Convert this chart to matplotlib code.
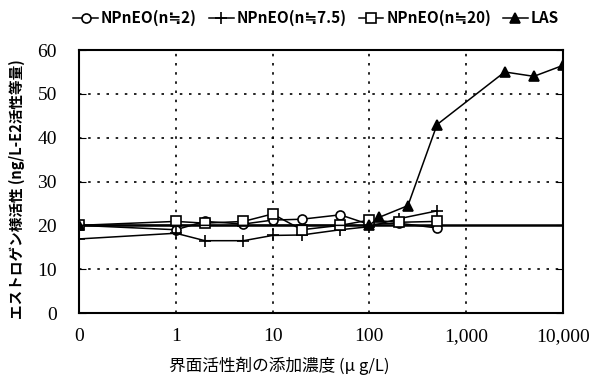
import matplotlib.pyplot as plt
import numpy as np

# 添加濃度 (µg/L)、0 は対数軸上で 0.1 の位置に描く
conc_np = [0, 1, 2, 5, 10, 20, 50, 100, 200, 500]
np2 = [20.0, 19.0, 20.9, 20.3, 21.2, 21.4, 22.4, 20.2, 20.5, 19.4]
np75 = [16.9, 18.2, 16.5, 16.5, 17.7, 17.8, 19.0, 19.7, 21.5, 23.3]
np20 = [20.0, 20.9, 20.5, 20.9, 22.6, 19.0, 20.0, 21.2, 20.7, 20.9]

conc_las = [0, 100, 125, 250, 500, 2500, 5000, 10000]
las = [20.0, 20.0, 21.8, 24.5, 43.0, 55.0, 54.0, 56.5]

control = 20.0
x_ticks = [0, 1, 10, 100, 1000, 10000]
x_labels = ["0", "1", "10", "100", "1,000", "10,000"]
y_ticks = [0, 10, 20, 30, 40, 50, 60]

jp = ['Noto Sans CJK JP', 'DejaVu Sans']
num = 'Liberation Serif'


def pos(x):
    x = np.asarray(x, dtype=float)
    return np.where(x == 0, 0.1, x)


fig = plt.figure(figsize=(5.91, 3.85), dpi=100)
ax = fig.add_axes([0.1337, 0.187, 0.8189, 0.683])
ax.set_xscale('log')

ax.axhline(control, color='black', lw=1.8, zorder=1)

kw = dict(color='black', lw=1.1, ms=6.5, mew=1.2)
ax.plot(pos(conc_np), np2, marker='o', mfc='white', label='NPnEO(n≒2)', **kw)
ax.plot(pos(conc_np), np75, marker='+', ms=9, color='black', lw=1.1, mew=1.2,
        label='NPnEO(n≒7.5)')
ax.plot(pos(conc_np), np20, marker='s', mfc='white', label='NPnEO(n≒20)', **kw)
ax.plot(pos(conc_las), las, marker='^', mfc='black', label='LAS', **kw)

ax.set_xlim(0.1, 10000)
ax.set_ylim(0, 60)
ax.set_xticks(pos(x_ticks))
ax.set_xticklabels(x_labels, fontfamily=num, fontsize=14)
ax.minorticks_off()
ax.set_yticks(y_ticks)
ax.set_yticklabels([str(v) for v in y_ticks], fontfamily=num, fontsize=14)
ax.tick_params(axis='x', length=0, pad=11)
ax.tick_params(axis='y', direction='in', length=5, pad=16, right=True)

for v in [1, 10, 100, 1000]:
    ax.axvline(v, color='black', lw=1.2, ls=(0, (1.5, 4)), zorder=0)
for v in [10, 30, 40, 50]:
    ax.axhline(v, color='black', lw=1.2, ls=(0, (1.5, 4)), zorder=0)

for s in ax.spines.values():
    s.set_linewidth(1.5)

ax.set_xlabel('界面活性剤の添加濃度 (μ g/L)', family=jp, fontsize=12)
ax.xaxis.set_label_coords(0.413, -0.165)
ax.set_ylabel('エストロゲン様活性 (ng/L-E2活性等量)', family=jp, fontsize=10.5,
              fontweight='bold')
ax.yaxis.set_label_coords(-0.112, 0.47)

fig.legend(loc='upper center', bbox_to_anchor=(0.535, 1.01), ncol=4, frameon=False,
           handlelength=1.6, handletextpad=0.2, columnspacing=0.8,
           prop=dict(family=jp, weight='bold', size=11))

fig.savefig('out.png', dpi=100)
